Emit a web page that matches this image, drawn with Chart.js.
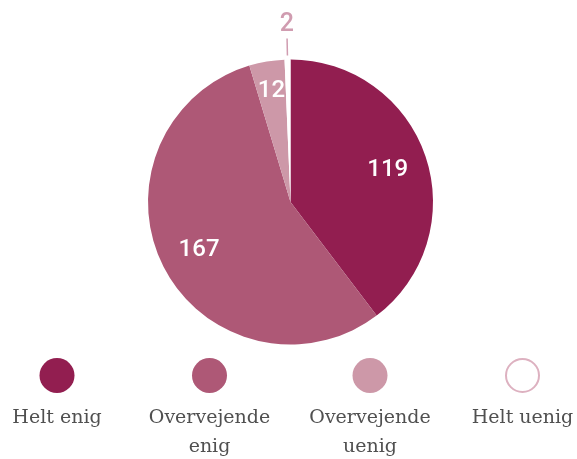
<!DOCTYPE html>
<html>
<head>
<meta charset="utf-8">
<script src="https://cdn.jsdelivr.net/npm/chart.js@4"></script>
<style>
  html, body { margin: 0; padding: 0; background: #fff; }
  #wrap { width: 577px; height: 459px; position: relative; }
</style>
</head>
<body>
<div id="wrap"><canvas id="c" width="577" height="459"></canvas></div>
<script>
const categories = ["Helt enig", "Overvejende enig", "Overvejende uenig", "Helt uenig"];
const legendLines = [["Helt enig"], ["Overvejende", "enig"], ["Overvejende", "uenig"], ["Helt uenig"]];
const values = [119, 167, 12, 2];
const colors = ["#921E50", "#AE5876", "#CD98A8", "#FFFFFF"];
const legendStroke = [null, null, null, "#DDB1C0"];
const outsideLabelColor = "#D09CB0";

const labelPlugin = {
  id: 'sliceLabels',
  afterDatasetsDraw(chart) {
    const ctx = chart.ctx;
    const meta = chart.getDatasetMeta(0);
    const data = chart.data.datasets[0].data;
    const total = data.reduce((a, b) => a + b, 0);
    ctx.save();
    meta.data.forEach((arc, i) => {
      const p = arc.getProps(['x', 'y', 'startAngle', 'endAngle', 'outerRadius'], true);
      const mid = (p.startAngle + p.endAngle) / 2;
      const share = data[i] / total;
      const R = p.outerRadius;
      ctx.textAlign = 'center';
      ctx.textBaseline = 'middle';
      if (share < 0.02) {
        const c = Math.cos(mid), s = Math.sin(mid);
        ctx.strokeStyle = outsideLabelColor;
        ctx.lineWidth = 1.5;
        ctx.beginPath();
        ctx.moveTo(p.x + c * (R + 4), p.y + s * (R + 4));
        ctx.lineTo(p.x + c * (R + 21), p.y + s * (R + 21));
        ctx.stroke();
        ctx.fillStyle = outsideLabelColor;
        ctx.font = '500 25px Roboto';
        ctx.fillText(String(data[i]), p.x + c * (R + 37), p.y + s * (R + 37) + 2);
      } else {
        const r = share < 0.1 ? R * 0.80 : R * 0.72;
        ctx.fillStyle = '#FFFFFF';
        ctx.font = '500 24px Roboto';
        ctx.fillText(String(data[i]), p.x + Math.cos(mid) * r, p.y + Math.sin(mid) * r + 1);
      }
    });
    ctx.restore();
  }
};

const legendPlugin = {
  id: 'customLegend',
  afterDraw(chart) {
    const ctx = chart.ctx;
    const centers = [57, 209.5, 370, 522.5];
    ctx.save();
    categories.forEach((cat, i) => {
      const cx = centers[i], cy = 375.5;
      ctx.beginPath();
      ctx.arc(cx, cy, legendStroke[i] ? 16.5 : 17.5, 0, Math.PI * 2);
      ctx.fillStyle = colors[i];
      ctx.fill();
      if (legendStroke[i]) {
        ctx.strokeStyle = legendStroke[i];
        ctx.lineWidth = 2;
        ctx.stroke();
      }
      ctx.fillStyle = '#505050';
      ctx.font = '19px "DejaVu Serif"';
      ctx.textAlign = 'center';
      ctx.textBaseline = 'alphabetic';
      legendLines[i].forEach((line, j) => {
        ctx.fillText(line, cx, 423 + j * 29);
      });
    });
    ctx.restore();
  }
};

new Chart(document.getElementById('c'), {
  type: 'pie',
  data: {
    labels: categories,
    datasets: [{
      data: values,
      backgroundColor: colors,
      borderWidth: 0
    }]
  },
  options: {
    responsive: false,
    devicePixelRatio: 1,
    animation: false,
    layout: { padding: { left: 148, right: 144, top: 59, bottom: 114 } },
    plugins: {
      legend: { display: false },
      tooltip: { enabled: false }
    }
  },
  plugins: [labelPlugin, legendPlugin]
});
</script>
</body>
</html>
